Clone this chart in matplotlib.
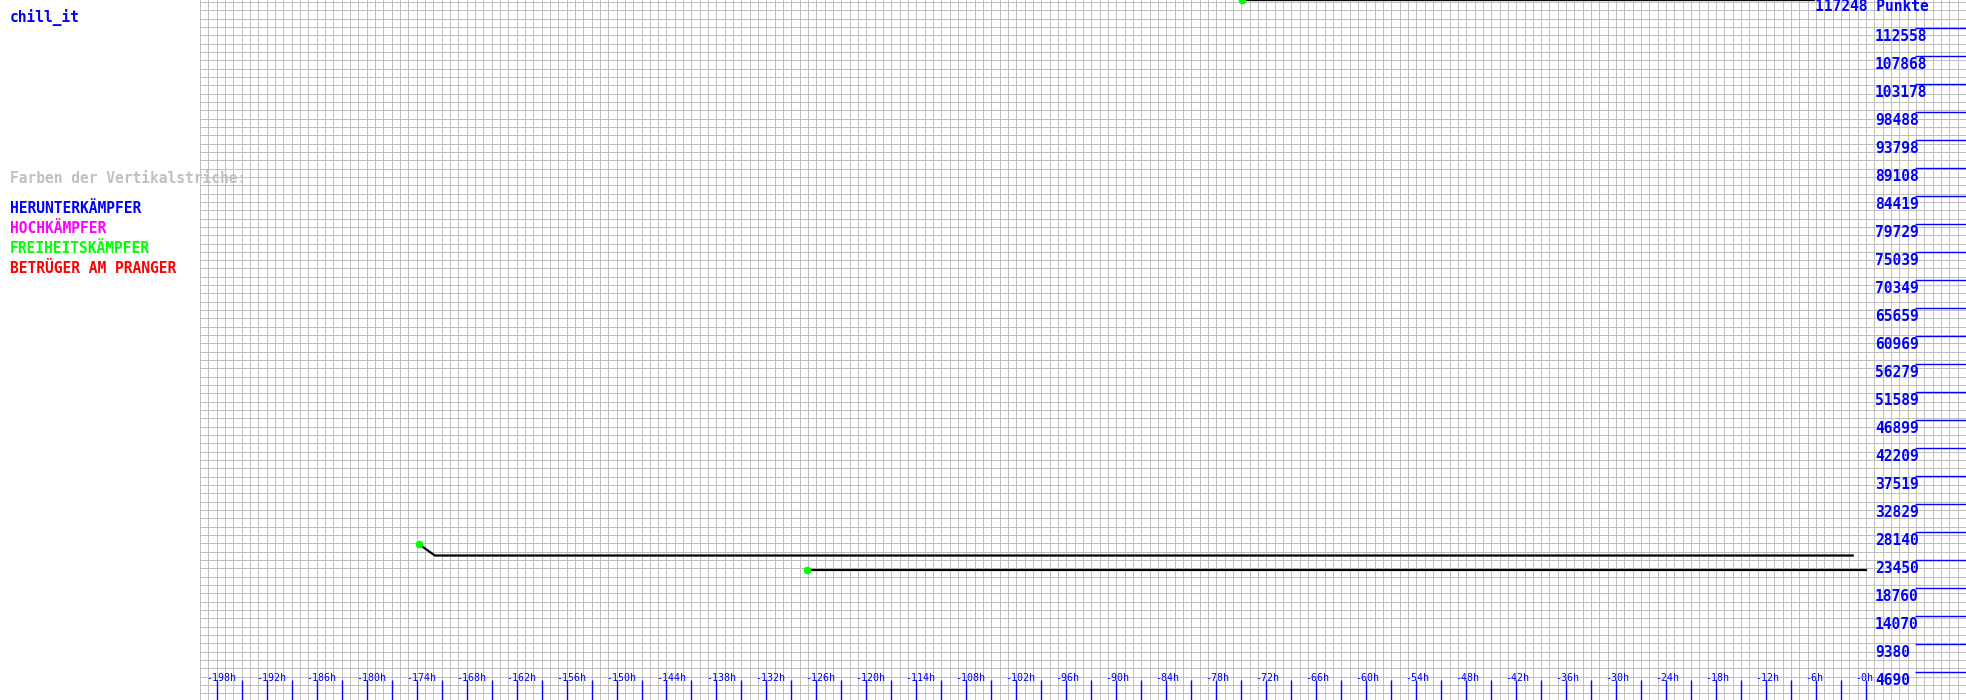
import numpy as np
import matplotlib
matplotlib.use('Agg')
import matplotlib.pyplot as plt
from matplotlib import transforms

# player name and legend
player = 'chill_it'
legend_title = 'Farben der Vertikalstriche:'
legend_items = ['HERUNTERKÄMPFER', 'HOCHKÄMPFER', 'FREIHEITSKÄMPFER', 'BETRÜGER AM PRANGER']
legend_colors = ['#0000ff', '#ff00ff', '#00ff00', '#ff0000']

# y axis (points)
y_max = 117248
y_ticks = [4690, 9380, 14070, 18760, 23450, 28140, 32829, 37519, 42209, 46899,
           51589, 56279, 60969, 65659, 70349, 75039, 79729, 84419, 89108, 93798,
           98488, 103178, 107868, 112558]

# x axis (hours)
x_ticks = list(range(-198, 1, 3))
x_labels = list(range(-198, 1, 6))

# point histories, hours vs points
hist1_h = [-173.7, -171.8, -1.6]
hist1_p = [26080, 24200, 24200]
hist2_h = [-127.1, 0.0]
hist2_p = [21775, 21775]
hist3_h = [-74.9, -6.2]
hist3_p = [117248, 117248]

W, H = 1966, 700
fig = plt.figure(figsize=(W / 100, H / 100), dpi=100)
ax = fig.add_axes([200 / W, 0, (W - 200) / W, 1])
ax.set_xlim(-200, 12)
ax.set_ylim(0, y_max)
for s in ax.spines.values():
    s.set_visible(False)

# grid (8.33 px squares), 1 px crisp lines
ax.vlines(np.arange(-200, 13), 0, y_max, color='#c0c0c0', lw=0.72, zorder=0,
          antialiased=False)
cell = y_max / 700 * (1766 / 212)
ax.hlines(np.arange(1116.7, y_max, cell), -200, 12, color='#c0c0c0', lw=0.72, zorder=0,
          antialiased=False)

mono = 'DejaVu Sans Mono'

# ticks
ax.set_xticks(x_ticks)
ax.set_yticks(y_ticks)
ax.tick_params(axis='x', direction='in', length=14.4, width=1, color='#0000ff',
               labelbottom=False)
ax.tick_params(axis='y', direction='in', length=36.7, width=1, color='#0000ff',
               left=False, right=True, labelleft=False, labelright=False)

xt = transforms.offset_copy(ax.get_xaxis_transform(), fig=fig, x=-10.7, y=19.3, units='dots')
for h in x_labels:
    ax.text(h, 0, f'{h}h' if h != 0 else '-0h', transform=xt, ha='left', va='baseline',
            color='#0000ff', fontsize=7.2, family=mono, zorder=5)

yt = transforms.offset_copy(ax.get_yaxis_transform(), fig=fig, x=0, y=-12.7, units='dots')
for v in y_ticks:
    ax.text((1875 - 200) / 1766, v, str(v), transform=yt, ha='left', va='baseline',
            color='#0000ff', fontsize=10.5, family=mono, fontweight='bold', zorder=5)
fig.text(1815 / W, 1 - 11 / H, f'{y_max} Punkte', ha='left', va='baseline',
         color='#0000ff', fontsize=10.5, family=mono, fontweight='bold', zorder=5)

# histories
for hh, pp in [(hist1_h, hist1_p), (hist2_h, hist2_p), (hist3_h, hist3_p)]:
    ax.plot(hh, pp, color='black', lw=1.6, zorder=3)
    ax.plot(hh[0], pp[0], 'o', color='#00ff00', ms=4.5, zorder=4)

# left side texts
fig.text(10 / W, 1 - 22 / H, player, ha='left', va='baseline', color='#0000ff',
         fontsize=10.5, family=mono, fontweight='bold')
fig.text(10 / W, 1 - 183 / H, legend_title, ha='left', va='baseline', color='#c0c0c0',
         fontsize=10.5, family=mono, fontweight='bold', zorder=5)
for i, (lab, c) in enumerate(zip(legend_items, legend_colors)):
    fig.text(10 / W, 1 - (213.3 + 20 * i) / H, lab, ha='left', va='baseline', color=c,
             fontsize=10.5, family=mono, fontweight='bold')

fig.savefig('out.png', dpi=100)
